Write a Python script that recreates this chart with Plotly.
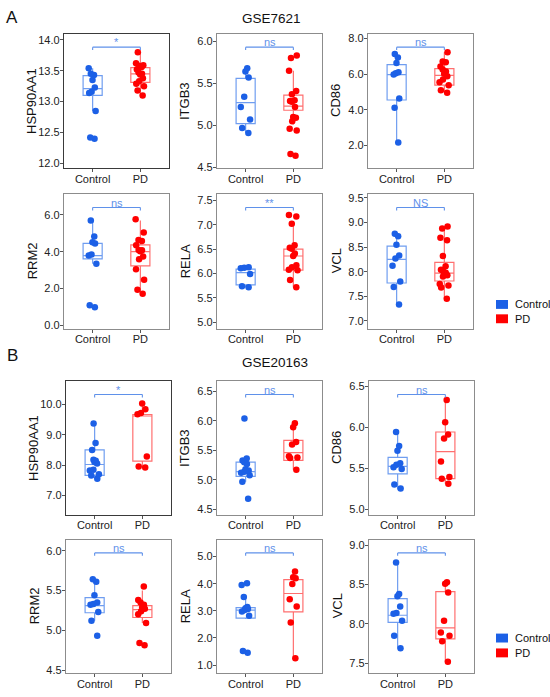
import plotly.graph_objects as go

W, H = 550, 697

groups = ["Control", "PD"]
genes = ["HSP90AA1", "ITGB3", "CD86", "RRM2", "RELA", "VCL"]
datasets = ["GSE7621", "GSE20163"]
panel_tags = ["A", "B"]
signif_gse7621 = ["*", "ns", "ns", "ns", "**", "NS"]
signif_gse20163 = ["*", "ns", "ns", "ns", "ns", "ns"]

# GSE7621 expression values
gse7621_hsp90aa1_control = [13.54, 13.45, 13.43, 13.35, 13.23, 13.16, 13.14, 12.85, 12.42, 12.40]
gse7621_hsp90aa1_pd = [13.80, 13.62, 13.59, 13.58, 13.56, 13.52, 13.47, 13.45, 13.44, 13.38, 13.33, 13.29, 13.25, 13.18, 13.10]
gse7621_itgb3_control = [5.68, 5.64, 5.57, 5.34, 5.22, 5.07, 4.97, 4.91]
gse7621_itgb3_pd = [5.83, 5.80, 5.65, 5.41, 5.37, 5.30, 5.29, 5.28, 5.22, 5.10, 5.09, 5.05, 4.96, 4.94, 4.66, 4.64]
gse7621_cd86_control = [7.13, 6.93, 6.62, 6.10, 6.05, 5.97, 4.64, 4.12, 2.18]
gse7621_cd86_pd = [7.22, 6.70, 6.66, 6.43, 6.25, 6.15, 6.02, 5.88, 5.70, 5.55, 5.38, 5.09, 4.95]
gse7621_rrm2_control = [5.70, 4.83, 4.52, 4.45, 3.85, 3.80, 3.35, 1.08, 0.98]
gse7621_rrm2_pd = [5.77, 5.04, 4.64, 4.58, 4.35, 4.10, 4.08, 4.02, 3.74, 3.59, 3.05, 2.47, 1.93, 1.71]
gse7621_rela_control = [6.13, 6.12, 6.11, 5.99, 5.74, 5.72]
gse7621_rela_pd = [7.20, 7.17, 7.02, 6.58, 6.53, 6.51, 6.41, 6.36, 6.17, 6.13, 6.08, 6.07, 5.87, 5.72]
gse7621_vcl_control = [8.77, 8.72, 8.55, 8.33, 8.27, 8.12, 7.80, 7.69, 7.33]
gse7621_vcl_pd = [8.92, 8.88, 8.69, 8.64, 8.32, 8.11, 8.04, 8.02, 7.98, 7.96, 7.93, 7.90, 7.75, 7.72, 7.68, 7.45]

# GSE20163 expression values
gse20163_hsp90aa1_control = [9.37, 8.73, 8.50, 8.18, 8.14, 8.10, 8.05, 7.85, 7.82, 7.70, 7.66, 7.55]
gse20163_hsp90aa1_pd = [10.03, 9.84, 9.72, 9.68, 8.28, 7.95, 7.92]
gse20163_itgb3_control = [6.04, 5.36, 5.33, 5.30, 5.27, 5.18, 5.16, 5.14, 5.12, 5.08, 4.97, 4.68]
gse20163_itgb3_pd = [5.96, 5.89, 5.64, 5.60, 5.40, 5.38, 5.37, 5.17]
gse20163_cd86_control = [5.94, 5.77, 5.71, 5.56, 5.54, 5.51, 5.49, 5.30, 5.25]
gse20163_cd86_pd = [6.33, 6.06, 5.91, 5.86, 5.58, 5.39, 5.37, 5.31]
gse20163_rrm2_control = [5.64, 5.61, 5.44, 5.35, 5.33, 5.32, 5.23, 5.12, 4.93]
gse20163_rrm2_pd = [5.55, 5.38, 5.35, 5.32, 5.29, 5.27, 5.24, 5.20, 5.09, 4.84, 4.81]
gse20163_rela_control = [4.02, 3.95, 3.51, 3.14, 3.10, 3.07, 3.03, 2.98, 2.82, 1.52, 1.45]
gse20163_rela_pd = [4.45, 4.24, 4.20, 3.99, 3.43, 3.16, 2.57, 1.25]
gse20163_vcl_control = [8.78, 8.38, 8.35, 8.22, 8.14, 8.13, 8.04, 7.85, 7.69]
gse20163_vcl_pd = [8.53, 8.51, 8.40, 8.04, 7.89, 7.85, 7.78, 7.52]

# box statistics per gene (order as in genes)
gse7621_q1_control = [13.10, 5.02, 4.55, 3.61, 5.77, 7.77]
gse7621_median_control = [13.21, 5.27, 5.97, 3.79, 6.02, 8.25]
gse7621_q3_control = [13.42, 5.56, 6.53, 4.46, 6.09, 8.52]
gse7621_lower_control = [12.85, 4.91, 2.18, 3.34, 5.72, 7.33]
gse7621_upper_control = [13.54, 5.68, 7.13, 5.70, 6.13, 8.77]
gse7621_q1_pd = [13.31, 5.18, 5.38, 3.23, 6.07, 7.81]
gse7621_median_pd = [13.45, 5.23, 5.93, 4.01, 6.36, 7.97]
gse7621_q3_pd = [13.55, 5.36, 6.30, 4.37, 6.50, 8.19]
gse7621_lower_pd = [13.10, 5.01, 4.95, 1.71, 5.72, 7.45]
gse7621_upper_pd = [13.80, 5.65, 7.22, 5.70, 7.00, 8.92]

gse20163_q1_control = [7.66, 5.06, 5.43, 5.22, 2.73, 8.02]
gse20163_median_control = [8.02, 5.14, 5.52, 5.31, 3.03, 8.11]
gse20163_q3_control = [8.50, 5.30, 5.63, 5.41, 3.12, 8.32]
gse20163_lower_control = [7.55, 4.97, 5.24, 5.12, 2.70, 7.69]
gse20163_upper_control = [9.37, 5.36, 5.94, 5.64, 3.51, 8.78]
gse20163_q1_pd = [8.13, 5.33, 5.37, 5.16, 2.96, 7.81]
gse20163_median_pd = [9.62, 5.46, 5.70, 5.26, 3.64, 7.95]
gse20163_q3_pd = [9.67, 5.67, 5.94, 5.31, 4.15, 8.41]
gse20163_lower_pd = [7.93, 5.17, 5.31, 5.09, 1.25, 7.52]
gse20163_upper_pd = [10.03, 5.96, 6.33, 5.50, 4.45, 8.52]

# axis ranges / tick steps
ranges_gse7621 = [[11.92, 14.10], [4.49, 6.09], [0.73, 8.26], [-0.19, 7.14], [4.87, 7.63], [6.84, 9.58]]
ranges_gse20163 = [[6.36, 10.77], [4.41, 6.67], [4.93, 6.56], [4.46, 6.14], [0.70, 5.63], [7.375, 9.07]]
dticks_gse7621 = [0.5, 0.5, 2, 2, 0.5, 0.5]
dticks_gse20163 = [1, 0.5, 0.5, 0.5, 1, 0.5]

points = [
    [[gse7621_hsp90aa1_control, gse7621_hsp90aa1_pd], [gse7621_itgb3_control, gse7621_itgb3_pd],
     [gse7621_cd86_control, gse7621_cd86_pd], [gse7621_rrm2_control, gse7621_rrm2_pd],
     [gse7621_rela_control, gse7621_rela_pd], [gse7621_vcl_control, gse7621_vcl_pd]],
    [[gse20163_hsp90aa1_control, gse20163_hsp90aa1_pd], [gse20163_itgb3_control, gse20163_itgb3_pd],
     [gse20163_cd86_control, gse20163_cd86_pd], [gse20163_rrm2_control, gse20163_rrm2_pd],
     [gse20163_rela_control, gse20163_rela_pd], [gse20163_vcl_control, gse20163_vcl_pd]],
]
stats = [
    [[gse7621_q1_control, gse7621_median_control, gse7621_q3_control, gse7621_lower_control, gse7621_upper_control],
     [gse7621_q1_pd, gse7621_median_pd, gse7621_q3_pd, gse7621_lower_pd, gse7621_upper_pd]],
    [[gse20163_q1_control, gse20163_median_control, gse20163_q3_control, gse20163_lower_control, gse20163_upper_control],
     [gse20163_q1_pd, gse20163_median_pd, gse20163_q3_pd, gse20163_lower_pd, gse20163_upper_pd]],
]
signifs = [signif_gse7621, signif_gse20163]
ranges = [ranges_gse7621, ranges_gse20163]
dticks = [dticks_gse7621, dticks_gse20163]

point_colors = ["#1c60e6", "#ff0000"]
box_colors = ["#6f9df0", "#ff6f6f"]
bracket_color = "#5f91ea"
FONT = "Liberation Sans, Arial, sans-serif"

# panel frames in pixels
col_px = [[(64, 169), (217, 322), (368, 473)], [(66, 171), (217, 322), (369, 474)]]
row_px = [[(32, 168), (194, 330)], [(383, 518), (543, 678)]]

fig = go.Figure()
shapes = []
annotations = []
layout_axes = {}

for d in range(2):
    for g in range(6):
        i = d * 6 + g + 1
        xa, ya = "x%d" % i, "y%d" % i
        r, c = g // 3, g % 3
        x0, x1 = col_px[d][c]
        y0, y1 = row_px[d][r]
        lo, hi = ranges[d][g]
        frame = "#3a3a3a" if g == 0 else "#8c8c8c"

        for k, grp in enumerate(groups):
            q1, med, q3, low, up = [s[g] for s in stats[d][k]]
            fig.add_trace(go.Box(
                x=[grp], q1=[q1], median=[med], q3=[q3], lowerfence=[low], upperfence=[up],
                orientation="v", width=0.4, whiskerwidth=0, boxpoints=False,
                line=dict(color=box_colors[k], width=1.2), fillcolor="rgba(255,255,255,0)",
                xaxis=xa, yaxis=ya, showlegend=False, name=grp))
            vals = points[d][g][k]
            fig.add_trace(go.Box(
                x=[grp] * len(vals), y=vals, orientation="v", width=0.4,
                boxpoints="all", jitter=0.6, pointpos=0,
                marker=dict(color=point_colors[k], size=6.5),
                line=dict(width=0, color="rgba(0,0,0,0)"), fillcolor="rgba(0,0,0,0)",
                xaxis=xa, yaxis=ya, showlegend=False, name=grp))

        layout_axes["xaxis%d" % i] = dict(
            domain=[x0 / W, x1 / W], anchor=ya, type="category",
            categoryorder="array", categoryarray=groups, range=[-0.6, 1.6],
            showline=True, mirror=True, linecolor=frame, linewidth=1.3,
            ticks="outside", ticklen=3, tickcolor="#555", showgrid=False,
            ticklabelstandoff=-3,
            tickfont=dict(size=11, color="#222", family=FONT))
        layout_axes["yaxis%d" % i] = dict(
            domain=[1 - y1 / H, 1 - y0 / H], anchor=xa, range=[lo, hi],
            tick0=0, dtick=dticks[d][g], tickformat=".1f",
            showline=True, mirror=True, linecolor=frame, linewidth=1.3,
            ticks="outside", ticklen=3, tickcolor="#555", showgrid=False, zeroline=False,
            ticklabelstandoff=-2,
            tickfont=dict(size=11, color="#222", family=FONT))

        # significance bracket
        yb = lo + 0.9 * (hi - lo)
        drop = 0.022 * (hi - lo)
        for sx0, sy0, sx1, sy1 in [(0, yb, 1, yb), (0, yb, 0, yb - drop), (1, yb, 1, yb - drop)]:
            shapes.append(dict(type="line", xref=xa, yref=ya, x0=sx0, y0=sy0, x1=sx1, y1=sy1,
                               line=dict(color=bracket_color, width=1.1)))
        annotations.append(dict(xref=xa, yref=ya, x=0.5, y=yb, text=signifs[d][g], showarrow=False,
                                yanchor="bottom", yshift=-3,
                                font=dict(size=11, color=bracket_color, family=FONT)))

        # y axis title
        annotations.append(dict(xref="paper", yref="paper", x=(x0 - 32) / W, y=1 - (y0 + y1) / 2 / H,
                                text=genes[g], textangle=-90, showarrow=False,
                                xanchor="center", yanchor="middle",
                                font=dict(size=13, color="#111", family=FONT)))

# dataset titles and panel letters
title_px = [(271, 17), (275, 364)]
tag_px = [(12, 16), (12, 357)]
legend_px = [(305.5, 320), (642.5, 657.5)]
for d in range(2):
    annotations.append(dict(xref="paper", yref="paper", x=title_px[d][0] / W, y=1 - title_px[d][1] / H,
                            text=datasets[d], showarrow=False, xanchor="center", yanchor="middle",
                            font=dict(size=13.5, color="#111", family=FONT)))
    annotations.append(dict(xref="paper", yref="paper", x=tag_px[d][0] / W, y=1 - tag_px[d][1] / H,
                            text=panel_tags[d], showarrow=False, xanchor="center", yanchor="middle",
                            font=dict(size=17, color="#111", family=FONT)))
    for k, grp in enumerate(groups):
        cy = legend_px[d][k]
        shapes.append(dict(type="rect", xref="paper", yref="paper",
                           x0=496 / W, x1=508 / W, y0=1 - (cy + 4.5) / H, y1=1 - (cy - 4.5) / H,
                           fillcolor=point_colors[k], line=dict(width=0)))
        annotations.append(dict(xref="paper", yref="paper", x=513 / W, y=1 - cy / H, text=grp,
                                showarrow=False, xanchor="left", yanchor="middle",
                                font=dict(size=11, color="#111", family=FONT)))

fig.update_layout(
    width=W, height=H, margin=dict(l=0, r=0, t=0, b=0),
    paper_bgcolor="white", plot_bgcolor="white", showlegend=False,
    boxmode="overlay", shapes=shapes, annotations=annotations,
    font=dict(family=FONT), **layout_axes)

# page body has a default margin; drop it so the figure fills the window
fig.write_html("out.html", config={"displayModeBar": False},
               post_script="document.body.style.margin='0';document.body.style.overflow='hidden';")
